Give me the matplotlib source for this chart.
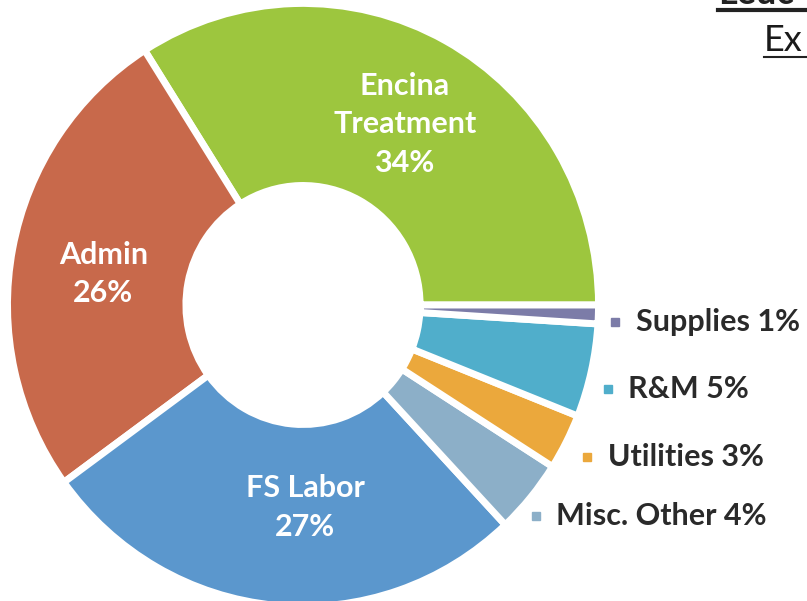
import matplotlib.pyplot as plt
import numpy as np
from matplotlib.lines import Line2D

categories = ['Encina\nTreatment', 'Admin', 'FS Labor', 'Misc. Other', 'Utilities', 'R&M', 'Supplies']
shares = [34, 26, 27, 4, 3, 5, 1]
colors = ['#9dc63e', '#c8694b', '#5b97cd', '#8cafc8', '#eba83c', '#50aecb', '#7c7ca8']
inside = [True, True, True, False, False, False, False]

# heading is cut off by the right/top edge in the source picture
title_lines = ['Leuc', 'Ex']

plt.rcParams['font.family'] = ['Lato', 'DejaVu Sans']

W, H = 807, 601
fig = plt.figure(figsize=(W / 100, H / 100), dpi=100)
ax = fig.add_axes([0, 0, 1, 1])

# pie centre and radius in pixels (picture is slightly taller than wide)
cx, cy, rx, ry = 303, 305, 292, 298

wedges, _ = ax.pie(shares, colors=colors, startangle=0, counterclock=True,
                   radius=1.012,
                   wedgeprops=dict(width=0.611, edgecolor='white', linewidth=5))
ax.set_aspect('auto')
ax.set_xlim(-cx / rx, (W - cx) / rx)
ax.set_ylim(-(H - cy) / ry, cy / ry)
ax.axis('off')

# small nudges of the labels
nudge = {'Encina\nTreatment': -1.5, 'Admin': 3, 'FS Labor': 6}
shift = {'R&M': (0, -0.024), 'Utilities': (0.02, 0), 'Misc. Other': (-0.027, 0)}

for w, name, val, col, ins in zip(wedges, categories, shares, colors, inside):
    mid = np.deg2rad((w.theta1 + w.theta2) / 2 + nudge.get(name, 0))
    if ins:
        r = 0.69
        ax.text(r * np.cos(mid), r * np.sin(mid) + 0.01, f'{name}\n{val}%',
                ha='center', va='center', color='white', fontsize=22,
                fontweight='bold', linespacing=1.45)
    else:
        r = 1.07
        dx, dy = shift.get(name, (0, 0))
        x, y = r * np.cos(mid) + dx, r * np.sin(mid) - 0.025 + dy
        ax.plot(x, y, marker='s', markersize=6, color=col, linestyle='none')
        ax.text(x + 0.07, y, f'{name} {val}%', ha='left', va='center',
                color='#2a2a2a', fontsize=22, fontweight='bold')

t1 = fig.text(718 / W, 1 - 4 / H, title_lines[0], ha='left', va='baseline',
              fontsize=26, fontweight='bold', color='#222222')
t2 = fig.text(764 / W, 1 - 51 / H, title_lines[1], ha='left', va='baseline',
              fontsize=26, fontweight='normal', color='#1a1a1a')

# underlines below the heading lines, running to the picture edge
fig.canvas.draw()
for t, y_px, lw in [(t1, 10, 3), (t2, 57, 1.5)]:
    bb = t.get_window_extent()
    fig.add_artist(Line2D([bb.x0 / W, 1.0], [1 - y_px / H, 1 - y_px / H],
                          color='#222222', linewidth=lw))

fig.savefig('out.png', dpi=100)
